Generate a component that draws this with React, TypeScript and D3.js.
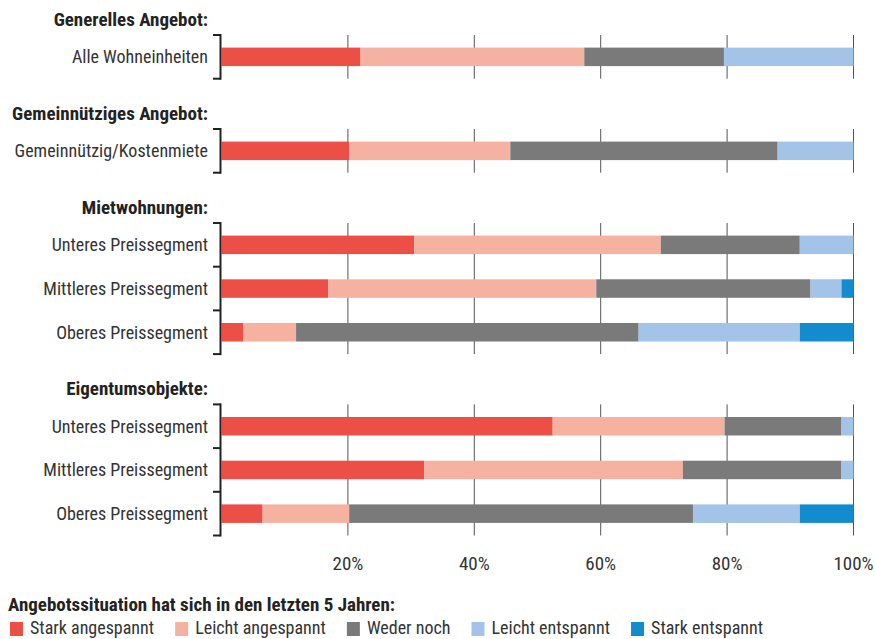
import React, { useEffect, useRef } from "react";
import * as d3 from "d3";

const groupTitles = ["Generelles Angebot:", "Gemeinnütziges Angebot:", "Mietwohnungen:", "Eigentumsobjekte:"];
const rowLabels = [
  "Alle Wohneinheiten",
  "Gemeinnützig/Kostenmiete",
  "Unteres Preissegment",
  "Mittleres Preissegment",
  "Oberes Preissegment",
  "Unteres Preissegment",
  "Mittleres Preissegment",
  "Oberes Preissegment",
];
const rowGroup = [0, 1, 2, 2, 2, 3, 3, 3];

const seriesNames = ["Stark angespannt", "Leicht angespannt", "Weder noch", "Leicht entspannt", "Stark entspannt"];
const seriesColors = ["#eb4f46", "#f5b2a0", "#7a7a7a", "#a3c4e8", "#138ccf"];
const starkAngespannt = [22.0, 20.2, 30.5, 16.9, 3.4, 52.4, 32.1, 6.5];
const leichtAngespannt = [35.4, 25.5, 39.0, 42.4, 8.4, 27.2, 40.9, 13.7];
const wederNoch = [22.1, 42.3, 22.0, 33.9, 54.2, 18.5, 25.1, 54.4];
const leichtEntspannt = [20.5, 12.0, 8.5, 4.9, 25.5, 1.9, 1.9, 16.9];
const starkEntspannt = [0, 0, 0, 1.9, 8.5, 0, 0, 8.5];
const xTicks = [20, 40, 60, 80, 100];
const legendTitle = "Angebotssituation hat sich in den letzten 5 Jahren:";

const FONT = "'Liberation Sans Narrow', 'Roboto Condensed', 'DejaVu Sans Condensed', sans-serif";

export default function App() {
  const ref = useRef<SVGSVGElement>(null);

  useEffect(() => {
    const svg = d3.select(ref.current);
    svg.selectAll("*").remove();

    const W = 875, H = 639;
    const x = d3.scaleLinear().domain([0, 100]).range([221.5, 853.5]);
    const step = 43.7;
    const gap = 50.3;
    const barH = 18.5;
    const firstTop = 35;
    const labelX = 208;

    const table = rowLabels.map((label, i) => ({
      label,
      group: rowGroup[i],
      values: [starkAngespannt[i], leichtAngespannt[i], wederNoch[i], leichtEntspannt[i], starkEntspannt[i]],
    }));

    const groups = groupTitles.map((title, g) => ({ title, rows: table.map((r, i) => ({ ...r, i })).filter((r) => r.group === g) }));
    let cursor = firstTop;
    const groupGeo = groups.map((g) => {
      const top = cursor;
      const bottom = top + g.rows.length * step;
      cursor = bottom + gap;
      const y = d3.scaleBand<number>().domain(g.rows.map((r) => r.i)).range([top, bottom]).paddingInner(0).paddingOuter(0);
      return { ...g, top, bottom, y };
    });

    const root = svg.append("g");

    groupGeo.forEach((g) => {
      const gg = root.append("g");
      gg.append("text")
        .attr("x", labelX)
        .attr("y", g.top - 9)
        .attr("text-anchor", "end")
        .attr("font-family", FONT)
        .attr("font-weight", "bold")
        .attr("font-size", 19)
        .attr("fill", "#222")
        .text(g.title);

      gg.selectAll("line.grid")
        .data(xTicks)
        .join("line")
        .attr("class", "grid")
        .attr("x1", (d) => x(d))
        .attr("x2", (d) => x(d))
        .attr("y1", g.top)
        .attr("y2", g.bottom)
        .attr("stroke", "#555")
        .attr("stroke-width", 1);

      g.rows.forEach((r) => {
        const y0 = (g.y(r.i) as number) + (step - barH) / 2;
        const stacked = d3.cumsum(r.values);
        gg.selectAll(null)
          .data(r.values.map((v, k) => ({ v, k, end: stacked[k] })))
          .join("rect")
          .filter((d) => d.v > 0)
          .attr("x", (d) => x(d.end - d.v))
          .attr("width", (d) => x(d.end) - x(d.end - d.v))
          .attr("y", y0)
          .attr("height", barH)
          .attr("fill", (d) => seriesColors[d.k]);

        gg.append("text")
          .attr("x", labelX)
          .attr("y", (g.y(r.i) as number) + step / 2)
          .attr("dy", "0.35em")
          .attr("text-anchor", "end")
          .attr("font-family", FONT)
          .attr("font-size", 18)
          .attr("fill", "#333")
          .text(r.label);
      });

      const lx = 220.5;
      const bounds = d3.range(g.rows.length + 1).map((k) => g.top + k * step);
      gg.append("line")
        .attr("x1", lx).attr("x2", lx)
        .attr("y1", g.top - 1).attr("y2", g.bottom + 1)
        .attr("stroke", "#222").attr("stroke-width", 2);
      gg.selectAll("line.tick")
        .data(bounds)
        .join("line")
        .attr("class", "tick")
        .attr("x1", lx - 7.5)
        .attr("x2", lx)
        .attr("y1", (d) => d)
        .attr("y2", (d) => d)
        .attr("stroke", "#222")
        .attr("stroke-width", 2);
    });

    root.append("g")
      .selectAll("text")
      .data(xTicks)
      .join("text")
      .attr("x", (d) => x(d))
      .attr("y", 570)
      .attr("text-anchor", "middle")
      .attr("font-family", FONT)
      .attr("font-size", 19)
      .attr("fill", "#333")
      .text((d) => `${d}%`);

    const lg = root.append("g");
    lg.append("text")
      .attr("x", 8)
      .attr("y", 611)
      .attr("font-family", FONT)
      .attr("font-weight", "bold")
      .attr("font-size", 19)
      .attr("fill", "#222")
      .text(legendTitle);

    let lx = 10;
    seriesNames.forEach((name, k) => {
      lg.append("rect")
        .attr("x", lx)
        .attr("y", 622)
        .attr("width", 13)
        .attr("height", 14)
        .attr("fill", seriesColors[k]);
      const t = lg.append("text")
        .attr("x", lx + 20)
        .attr("y", 634)
        .attr("font-family", FONT)
        .attr("font-size", 18)
        .attr("fill", "#333")
        .text(name);
      const w = (t.node() as SVGTextElement).getComputedTextLength();
      lx = lx + 20 + w + 21;
    });

    svg.attr("width", W).attr("height", H);
  }, []);

  return (
    <svg
      ref={ref}
      width={875}
      height={639}
      style={{ position: "absolute", left: 0, top: 0, background: "#fff" }}
    />
  );
}
